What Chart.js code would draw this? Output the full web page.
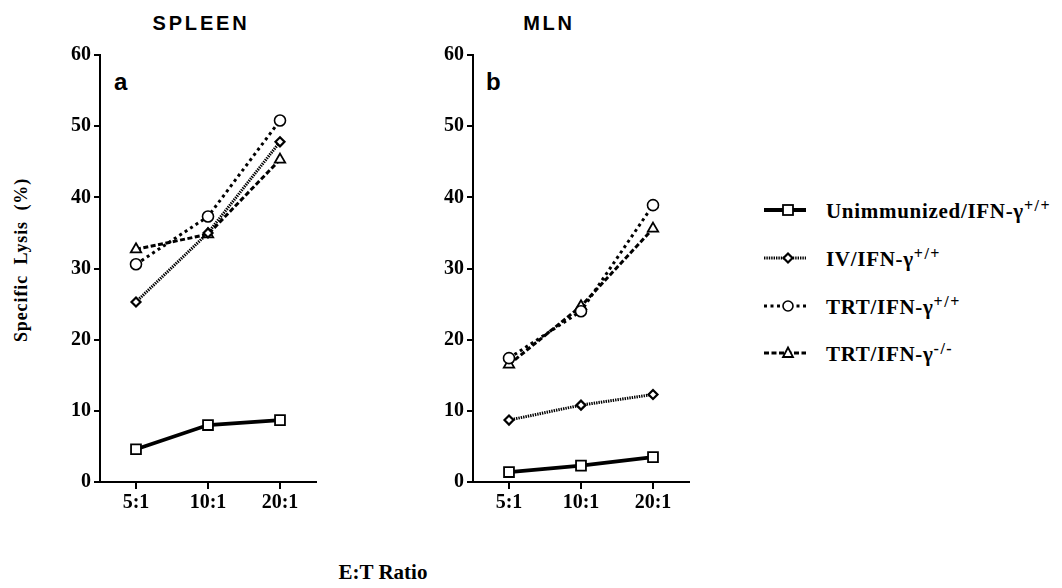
<!DOCTYPE html>
<html>
<head>
<meta charset="utf-8">
<script src="https://cdn.jsdelivr.net/npm/chart.js@4"></script>
<style>
    body { margin: 0; background: #fff; width: 1062px; height: 588px; position: relative; overflow: hidden; }
    canvas { position: absolute; top: 0; }
    .title { position: absolute; top: 12px; font: bold 20px "Liberation Sans", Arial, sans-serif; letter-spacing: 2.8px; transform: translateX(-50%); }
    .panel { position: absolute; top: 68px; font: bold 24px "Liberation Sans", Arial, sans-serif; }
    .serif { font-family: "Liberation Serif", "Times New Roman", serif; font-weight: bold; }
    #ytitle { position: absolute; left: 21px; top: 260px; font-size: 18px; letter-spacing: 0.9px; word-spacing: 5px; white-space: nowrap; transform: translate(-50%, -50%) rotate(-90deg); }
    #xtitle { position: absolute; left: 383px; top: 560px; font-size: 21px; transform: translateX(-50%); white-space: nowrap; }
    .leg { position: absolute; left: 762px; height: 24px; display: flex; align-items: center; }
    .leg span { font-size: 21px; letter-spacing: 0.7px; margin-left: 20px; white-space: nowrap; }
    .leg sup { font-size: 16px; vertical-align: 7px; letter-spacing: 1.5px; }
</style>
</head>
<body>
<div class="title" style="left:201px">SPLEEN</div>
<div class="title" style="left:549px">MLN</div>
<div class="panel" style="left:114px">a</div>
<div class="panel" style="left:486px">b</div>
<div id="ytitle" class="serif">Specific Lysis (%)</div>
<div id="xtitle" class="serif">E:T Ratio</div>
<div id="legend"></div>
<canvas id="chartA" width="340" height="520" style="left:0px"></canvas>
<canvas id="chartB" width="340" height="520" style="left:373px"></canvas>
<script>
// E:T ratios and y ticks
const ratios = ['5:1', '10:1', '20:1'];
const yTicks = [0, 10, 20, 30, 40, 50, 60];

// a: spleen
const spleenUnimm = [4.6, 8.0, 8.7];
const spleenIV = [25.3, 35.0, 47.8];
const spleenTRT = [30.6, 37.3, 50.8];
const spleenKO = [32.7, 34.8, 45.3];

// b: MLN
const mlnUnimm = [1.4, 2.3, 3.5];
const mlnIV = [8.7, 10.8, 12.3];
const mlnTRT = [17.4, 24.0, 38.9];
const mlnKO = [16.5, 24.7, 35.6];

const seriesNames = ['Unimmunized', 'IV', 'TRT', 'TRT'];
const seriesSup = ['+/+', '+/+', '+/+', '-/-'];

const styles = [
    { pointStyle: 'rect', pointRadius: 7, borderWidth: 3.8, borderDash: [], pointBorderWidth: 1.8 },
    { pointStyle: 'rectRot', pointRadius: 4.5, borderWidth: 3, borderDash: [1.4, 1], pointBorderWidth: 2.2 },
    { pointStyle: 'circle', pointRadius: 5.5, borderWidth: 3, borderDash: [3, 3.5], pointBorderWidth: 1.6 },
    { pointStyle: 'triangle', pointRadius: 6, borderWidth: 3, borderDash: [5, 2.5], pointBorderWidth: 1.8 }
];

const tickFont = { family: '"Liberation Serif", serif', weight: 'bold', size: 20 };

function makeChart(id, values) {
    const ctx = document.getElementById(id).getContext('2d');
    return new Chart(ctx, {
        type: 'line',
        data: {
            labels: ratios,
            datasets: values.map((v, i) => ({
                label: seriesNames[i],
                data: v,
                borderColor: '#000',
                pointBackgroundColor: '#fff',
                pointBorderColor: '#000',
                tension: 0,
                clip: false,
                ...styles[i]
            }))
        },
        options: {
            responsive: false,
            animation: false,
            layout: { padding: { top: 55, right: 24, left: 0, bottom: 0 } },
            plugins: { legend: { display: false }, tooltip: { enabled: false } },
            scales: {
                x: {
                    offset: true,
                    afterFit: (s) => { s.height = 38; },
                    grid: { drawOnChartArea: false, drawTicks: true, tickLength: 7, color: '#000', lineWidth: 2 },
                    border: { color: '#000', width: 2 },
                    ticks: { color: '#000', padding: 2, font: tickFont }
                },
                y: {
                    min: 0, max: 60,
                    afterFit: (s) => { s.width = 100; },
                    afterBuildTicks: (s) => { s.ticks = yTicks.map(v => ({ value: v })); },
                    grid: { drawOnChartArea: false, drawTicks: true, tickLength: 6, color: '#000', lineWidth: 2 },
                    border: { color: '#000', width: 2 },
                    ticks: { color: '#000', padding: 3, font: tickFont }
                }
            }
        }
    });
}

makeChart('chartA', [spleenUnimm, spleenIV, spleenTRT, spleenKO]);
makeChart('chartB', [mlnUnimm, mlnIV, mlnTRT, mlnKO]);

// legend: little line + marker, then label
const legendEl = document.getElementById('legend');
const rowTops = [198, 246, 294, 341];
function markerSvg(st) {
    const dash = st.borderDash.length ? `stroke-dasharray="${st.borderDash.join(',')}"` : '';
    let m = '';
    if (st.pointStyle === 'rect') m = '<rect x="21" y="7" width="10" height="10" fill="#fff" stroke="#000" stroke-width="1.8"/>';
    if (st.pointStyle === 'rectRot') m = '<polygon points="26,7.5 30.5,12 26,16.5 21.5,12" fill="#fff" stroke="#000" stroke-width="2.2"/>';
    if (st.pointStyle === 'circle') m = '<circle cx="26" cy="12" r="5" fill="#fff" stroke="#000" stroke-width="1.6"/>';
    if (st.pointStyle === 'triangle') m = '<polygon points="26,6.5 31,16 21,16" fill="#fff" stroke="#000" stroke-width="1.8"/>';
    return `<svg width="44" height="24"><line x1="2" y1="12" x2="44" y2="12" stroke="#000" stroke-width="${st.borderWidth}" ${dash}/>${m}</svg>`;
}
legendEl.innerHTML = seriesNames.map((n, i) => `
    <div class="leg" style="top:${rowTops[i]}px">
        ${markerSvg(styles[i])}
        <span class="serif">${n}/IFN-γ<sup>${seriesSup[i]}</sup></span>
    </div>`).join('');
</script>
</body>
</html>
